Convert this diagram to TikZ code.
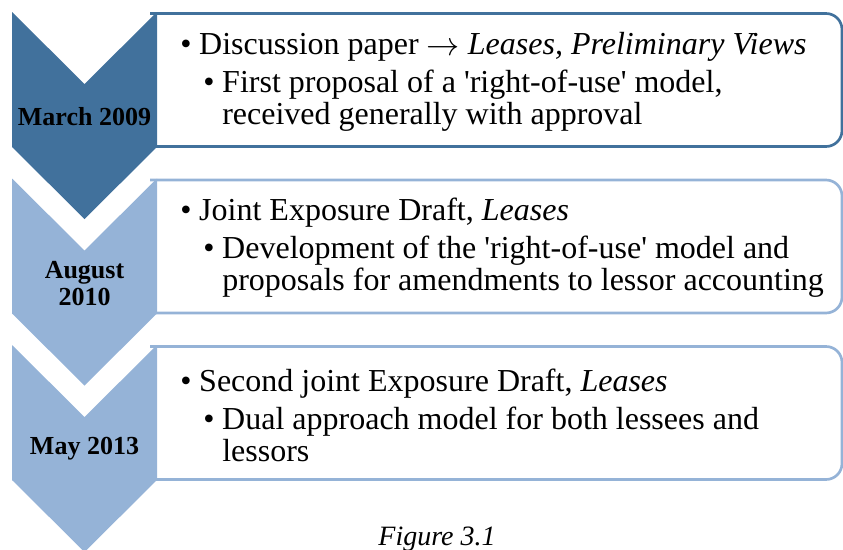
\documentclass[tikz,border=0pt]{standalone}
\usepackage{fontspec}
\setmainfont{Liberation Serif}
\usepackage{pgf,tikz}
\usetikzlibrary{positioning}

\definecolor{darkchev}{RGB}{65,113,156}
\definecolor{lightchev}{RGB}{149,179,215}

\newcommand{\lvlone}{\makebox[14.25pt][l]{\textbullet}}
\newcommand{\lvltwo}{\hspace*{17.25pt}\makebox[14.25pt][l]{\textbullet}}
\newcommand{\lvlcont}{\hspace*{31.5pt}}
\newcommand{\sq}{\textquotesingle}
\newcommand{\toarrow}{\raisebox{-1pt}{$\rightarrow$}}

\begin{document}
\begin{tikzpicture}
[x=0.75pt,y=-0.75pt,
   itembox/.style={draw=#1,line width=2pt,rounded corners=12pt},
   datelabel/.style={font=\fontsize{19.5}{20.25}\selectfont\bfseries,align=center,text=black},
   itemtext/.style={font=\fontsize{24}{24}\selectfont,align=left,anchor=west,inner sep=0pt}
  ]
\useasboundingbox (0,0) rectangle (843,550);

% boxes (open on the left), chevrons drawn over their left ends
\foreach \t/\c in {12/darkchev,178.5/lightchev,345/lightchev}{
  \draw[itembox=\c] (150,\t+1.5) -- (842,\t+1.5) -- (842,\t+134.5) -- (150,\t+134.5);
  \fill[\c] (12,\t) -- (84.5,\t+72) -- (157,\t) -- (157,\t+135)
     -- (84.5,\t+207) -- (12,\t+135) -- cycle;
}

\node[datelabel] (march) at (84.5,117) {March 2009};
\node[datelabel] (august) at (84.5,284) {August\\2010};
\node[datelabel] (may) at (84.5,449) {May 2013};

\node[itemtext] (paper) at (180,82) {\lvlone Discussion paper \toarrow{} \textit{Leases, Preliminary Views}\\[4.5pt]
  \lvltwo First proposal of a \sq right-of-use\sq{} model,\\
  \lvlcont received generally with approval};

\node[itemtext] (draft) at (180,248) {\lvlone Joint Exposure Draft, \textit{Leases}\\[4.5pt]
  \lvltwo Development of the \sq right-of-use\sq{} model and\\
  \lvlcont proposals for amendments to lessor accounting};

\node[itemtext] (second) at (180,415) {\lvlone Second joint Exposure Draft, \textit{Leases}\\[4.5pt]
  \lvltwo Dual approach model for both lessees and\\
  \lvlcont lessors};

\node[font=\fontsize{21}{21}\selectfont\itshape,anchor=base] (caption) at (437,545) {Figure 3.1};

\end{tikzpicture}
\end{document}
